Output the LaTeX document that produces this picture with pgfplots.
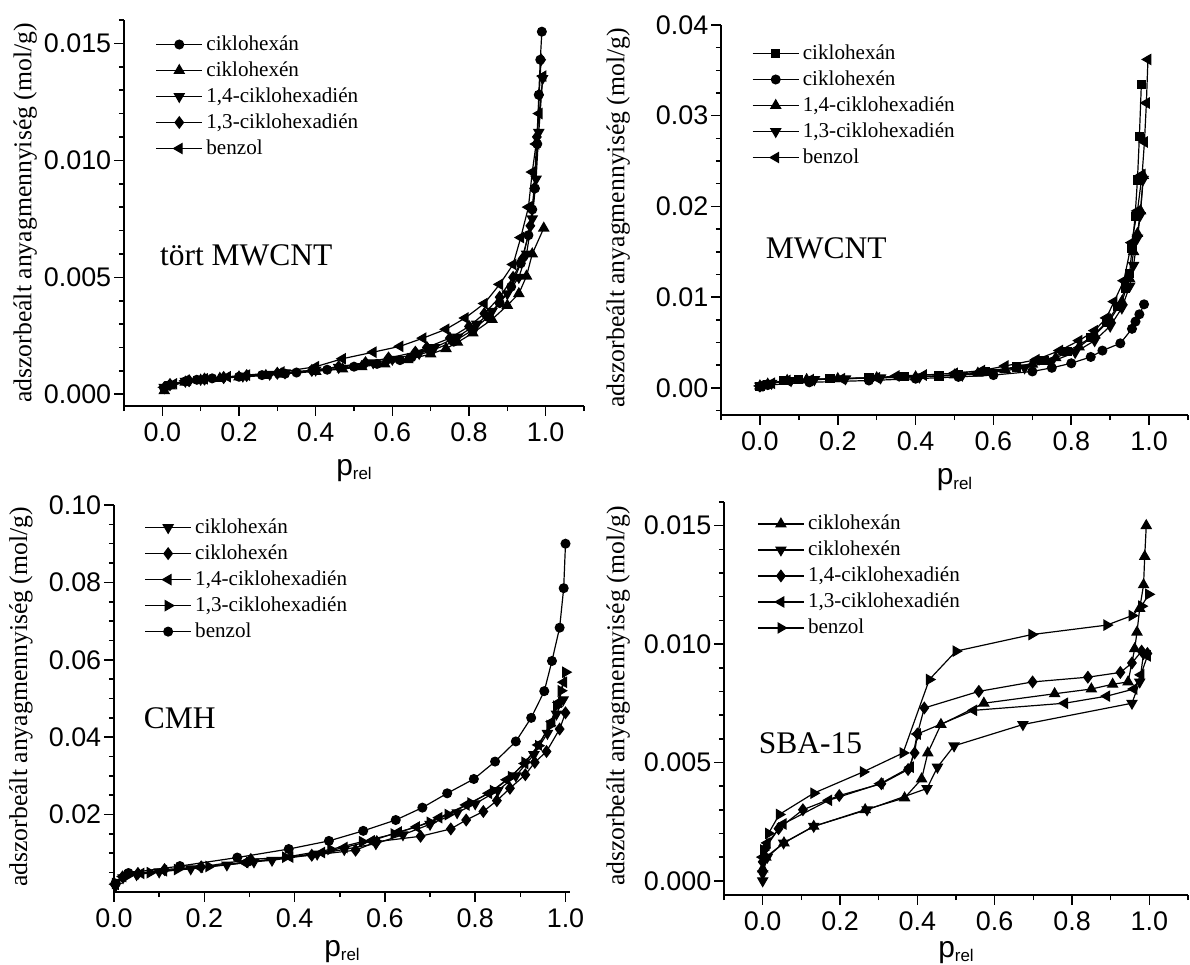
\documentclass[border=0pt]{standalone}
\usepackage{fontspec}
\setmainfont{Liberation Serif}
\setsansfont{Liberation Sans}
\usepackage{pgfplots}
\pgfplotsset{compat=1.18}
\tikzset{lab/.style={anchor=west, font=\fontsize{15.8}{18}\selectfont}}
\pgfplotsset{
  panel/.style={
    scale only axis, anchor=south west,
    axis x line*=bottom, axis y line*=left,
    axis line style={-, line width=1bp, black},
    tick align=outside, major tick length=5bp, minor tick length=2.6bp,
    every tick/.style={black, line width=0.8bp},
    scaled ticks=false,
    ticklabel style={font=\sffamily\fontsize{13.5}{16}\selectfont},
    yticklabel style={inner xsep=1.2bp},
    /pgf/number format/assume math mode=true,
    xtick={0,0.2,0.4,0.6,0.8,1},
    xticklabel style={/pgf/number format/.cd,fixed,fixed zerofill,precision=1},
    clip=false,
    legend cell align=left,
    legend style={draw=none, fill=none, anchor=north west,
      font=\fontsize{10.6}{13}\selectfont, row sep=2.5bp,
      nodes={font=\fontsize{10.6}{13}\selectfont, inner xsep=1.75bp, inner ysep=0bp, text height=8bp, text depth=2.5bp}},
    legend image code/.code={\draw[mark repeat=2,mark phase=2] plot coordinates {(0bp,0bp) (11.5bp,0bp) (23bp,0bp)};},
    xlabel={\sffamily\fontsize{15}{18}\selectfont p\raisebox{-2.2bp}{\fontsize{8.5}{10}\selectfont rel}},
    ylabel={adszorbeált anyagmennyiség (mol/g)},
    ylabel style={font=\fontsize{12.9}{15}\selectfont, anchor=center},
    xlabel style={anchor=north, at={(axis description cs:0.5,-0.12)}},
  },
  s1/.style={black, line width=0.6bp},
  mcirc/.style={s1, mark=*, mark size=2.2bp, mark options={fill=black, solid}},
  mup/.style={s1, mark=triangle*, mark size=2.8bp, mark options={fill=black, solid}},
  mdown/.style={s1, mark=triangle*, mark size=2.8bp, mark options={fill=black, solid, rotate=180}},
  mleft/.style={s1, mark=triangle*, mark size=2.8bp, mark options={fill=black, solid, rotate=90}},
  mright/.style={s1, mark=triangle*, mark size=2.8bp, mark options={fill=black, solid, rotate=270}},
  mdiam/.style={s1, mark=diamond*, mark size=2.8bp, mark options={fill=black, solid}},
  msq/.style={s1, mark=square*, mark size=2.0bp, mark options={fill=black, solid}},
}
\begin{document}
\begin{tikzpicture}[x=1bp,y=1bp]
\useasboundingbox (0,0) rectangle (595,482.5);
% ---------------- Panel 1: tort MWCNT
\begin{axis}[panel, at={(62bp,279.5bp)}, width=230bp, height=193bp,
  xmin=-0.1, xmax=1.1, ymin=-0.0005, ymax=0.016,
  ytick={0,0.005,0.01,0.015},
  minor xtick={-0.1,0.1,0.3,0.5,0.7,0.9,1.1},
  minor ytick={0.001,0.002,0.003,0.004,0.006,0.007,0.008,0.009,0.011,0.012,0.013,0.014,0.016},
  yticklabel style={/pgf/number format/.cd,fixed,fixed zerofill,precision=3},
  ylabel style={at={(axis description cs:-0.215,0.5)}},
  legend style={at={(axis description cs:0.055,0.975)}}]
\addplot[mcirc] coordinates {(0.005,0.00025)(0.02,0.0004)(0.06,0.00055)(0.09,0.00062)(0.13,0.00068)(0.2,0.00075)(0.26,0.00082)(0.32,0.00088)(0.35,0.00093)(0.43,0.00105)(0.5,0.00118)(0.56,0.0013)(0.62,0.00146)(0.65,0.00158)(0.7,0.00185)(0.76,0.00225)(0.81,0.00275)(0.85,0.0033)(0.88,0.0039)(0.91,0.0046)(0.935,0.0056)(0.955,0.0068)(0.965,0.0079)(0.972,0.0088)(0.978,0.0107)(0.982,0.0128)(0.986,0.0143)(0.99,0.0155)};
\addlegendentry{ciklohexán}
\addplot[mup] coordinates {(0.005,0.00015)(0.02,0.00035)(0.06,0.00052)(0.1,0.0006)(0.15,0.00068)(0.2,0.00074)(0.27,0.0008)(0.31,0.00086)(0.4,0.00098)(0.47,0.00108)(0.52,0.00118)(0.58,0.0013)(0.64,0.00148)(0.7,0.00172)(0.74,0.00195)(0.77,0.00222)(0.81,0.00262)(0.86,0.0032)(0.9,0.0038)(0.93,0.0043)(0.95,0.00505)(0.965,0.006)(0.995,0.0071)};
\addlegendentry{ciklohexén}
\addplot[mdown] coordinates {(0.005,0.0003)(0.02,0.00042)(0.06,0.00056)(0.1,0.00064)(0.16,0.00072)(0.21,0.00078)(0.28,0.00086)(0.32,0.00092)(0.4,0.00104)(0.46,0.00115)(0.55,0.00135)(0.6,0.0015)(0.67,0.00175)(0.71,0.002)(0.77,0.00245)(0.82,0.003)(0.86,0.00355)(0.9,0.0043)(0.93,0.005)(0.95,0.006)(0.965,0.0075)(0.975,0.0092)(0.982,0.0112)(0.992,0.0135)};
\addlegendentry{1,4-ciklohexadién}
\addplot[mdiam] coordinates {(0.005,0.00028)(0.02,0.00042)(0.07,0.00058)(0.11,0.00065)(0.16,0.00072)(0.22,0.0008)(0.3,0.0009)(0.39,0.00102)(0.46,0.00118)(0.53,0.00135)(0.59,0.00155)(0.66,0.0018)(0.69,0.002)(0.75,0.0024)(0.8,0.0029)(0.84,0.00345)(0.88,0.00415)(0.915,0.005)(0.94,0.0058)(0.96,0.0072)(0.97,0.0088)(0.977,0.011)(0.983,0.0128)(0.988,0.0143)};
\addlegendentry{1,3-ciklohexadién}
\addplot[mleft] coordinates {(0.005,0.0003)(0.03,0.00045)(0.06,0.00058)(0.11,0.00066)(0.17,0.00075)(0.22,0.00082)(0.31,0.00095)(0.4,0.00118)(0.47,0.00152)(0.55,0.0018)(0.62,0.00205)(0.68,0.0024)(0.74,0.00278)(0.79,0.00326)(0.84,0.00388)(0.88,0.0047)(0.915,0.00555)(0.935,0.0067)(0.955,0.008)(0.965,0.0095)(0.975,0.0107)(0.983,0.012)(0.993,0.0136)};
\addlegendentry{benzol}
\node[lab] at (axis description cs:0.063,0.39) {tört MWCNT};
\end{axis}
% ---------------- Panel 2: MWCNT
\begin{axis}[panel, at={(360.5bp,275bp)}, width=233.5bp, height=195bp,
  xmin=-0.1, xmax=1.1, ymin=-0.003, ymax=0.04,
  ytick={0,0.01,0.02,0.03,0.04},
  minor xtick={-0.1,0.1,0.3,0.5,0.7,0.9,1.1},
  minor ytick={-0.0025,0.0025,0.005,0.0075,0.0125,0.015,0.0175,0.0225,0.025,0.0275,0.0325,0.035,0.0375},
  yticklabel style={/pgf/number format/.cd,fixed,fixed zerofill,precision=2},
  ylabel style={at={(axis description cs:-0.22,0.505)}},
  legend style={at={(axis description cs:0.053,0.965)}}]
\addplot[msq] coordinates {(0.0,0.0001)(0.02,0.0004)(0.06,0.0008)(0.1,0.0009)(0.18,0.001)(0.28,0.0011)(0.37,0.0012)(0.46,0.0013)(0.51,0.0015)(0.58,0.0018)(0.66,0.0023)(0.73,0.003)(0.79,0.004)(0.85,0.0055)(0.89,0.0072)(0.92,0.009)(0.94,0.011)(0.95,0.0126)(0.956,0.0154)(0.964,0.0189)(0.97,0.0229)(0.975,0.0277)(0.98,0.0334)};
\addlegendentry{ciklohexán}
\addplot[mcirc] coordinates {(0.0,0.0001)(0.02,0.0003)(0.127,0.0006)(0.28,0.0008)(0.4,0.001)(0.51,0.0012)(0.6,0.0014)(0.7,0.0018)(0.75,0.0022)(0.8,0.0027)(0.85,0.0034)(0.88,0.0041)(0.926,0.0049)(0.956,0.0065)(0.965,0.0073)(0.975,0.0081)(0.987,0.0092)};
\addlegendentry{ciklohexén}
\addplot[mup] coordinates {(0.0,0.0002)(0.02,0.0004)(0.07,0.0008)(0.12,0.0009)(0.2,0.001)(0.3,0.0011)(0.4,0.0012)(0.5,0.0014)(0.56,0.0016)(0.63,0.002)(0.7,0.0026)(0.76,0.0033)(0.82,0.0045)(0.86,0.0058)(0.9,0.0075)(0.93,0.0095)(0.95,0.012)(0.96,0.015)(0.97,0.017)(0.978,0.0195)(0.985,0.0234)};
\addlegendentry{1,4-ciklohexadién}
\addplot[mdown] coordinates {(0.0,0.0002)(0.03,0.0005)(0.08,0.0008)(0.14,0.0009)(0.22,0.001)(0.31,0.0011)(0.41,0.0012)(0.52,0.0014)(0.6,0.0017)(0.68,0.0022)(0.75,0.0029)(0.81,0.0039)(0.86,0.0052)(0.9,0.0068)(0.93,0.0088)(0.95,0.0112)(0.96,0.0135)(0.97,0.0165)(0.977,0.019)(0.985,0.023)};
\addlegendentry{1,3-ciklohexadién}
\addplot[mleft] coordinates {(0.0,0.0002)(0.03,0.0005)(0.07,0.0008)(0.13,0.0009)(0.21,0.001)(0.3,0.0011)(0.35,0.0013)(0.42,0.0014)(0.5,0.0016)(0.57,0.0019)(0.63,0.0024)(0.71,0.0031)(0.77,0.0041)(0.82,0.0052)(0.86,0.0063)(0.89,0.0077)(0.91,0.0095)(0.935,0.0118)(0.955,0.016)(0.97,0.0195)(0.982,0.0235)(0.988,0.0271)(0.993,0.0314)(0.997,0.0362)};
\addlegendentry{benzol}
\node[lab] at (axis description cs:0.081,0.428) {MWCNT};
\end{axis}
% ---------------- Panel 3: CMH
\begin{axis}[panel, at={(57bp,36.5bp)}, width=228bp, height=193.5bp,
  xmin=0, xmax=1.01, ymin=0, ymax=0.1,
  ytick={0.02,0.04,0.06,0.08,0.1},
  minor xtick={0.1,0.3,0.5,0.7,0.9},
  minor ytick={0.005,0.01,0.015,0.025,0.03,0.035,0.045,0.05,0.055,0.065,0.07,0.075,0.085,0.09,0.095},
  yticklabel style={/pgf/number format/.cd,fixed,fixed zerofill,precision=2},
  ylabel style={at={(axis description cs:-0.204,0.504)}},
  xlabel style={at={(axis description cs:0.5,-0.107)}},
  legend style={at={(axis description cs:0.053,0.98)}}]
\addplot[mdown] coordinates {(0.003,0.0015)(0.02,0.0037)(0.05,0.0045)(0.1,0.0052)(0.17,0.006)(0.25,0.007)(0.31,0.0078)(0.35,0.0082)(0.45,0.0098)(0.51,0.011)(0.58,0.0125)(0.64,0.0148)(0.7,0.0175)(0.76,0.0205)(0.8,0.0228)(0.85,0.0262)(0.89,0.03)(0.93,0.0355)(0.96,0.041)(0.98,0.046)(0.995,0.0497)};
\addlegendentry{ciklohexán}
\addplot[mdiam] coordinates {(0.003,0.0017)(0.019,0.0039)(0.053,0.0048)(0.112,0.0058)(0.193,0.0065)(0.303,0.0084)(0.438,0.0095)(0.535,0.0108)(0.582,0.013)(0.679,0.0144)(0.746,0.0163)(0.78,0.0186)(0.818,0.0208)(0.848,0.0236)(0.877,0.0268)(0.911,0.0303)(0.932,0.0335)(0.958,0.0363)(0.987,0.0421)(1.0,0.0463)};
\addlegendentry{ciklohexén}
\addplot[mleft] coordinates {(0.003,0.002)(0.02,0.004)(0.06,0.0048)(0.11,0.0055)(0.19,0.0064)(0.29,0.0076)(0.39,0.009)(0.46,0.0102)(0.51,0.0115)(0.57,0.0132)(0.63,0.0155)(0.67,0.0168)(0.72,0.0192)(0.78,0.0225)(0.83,0.0255)(0.87,0.029)(0.91,0.0332)(0.94,0.038)(0.97,0.044)(0.985,0.049)(0.996,0.0542)};
\addlegendentry{1,4-ciklohexadién}
\addplot[mright] coordinates {(0.003,0.0022)(0.03,0.0042)(0.08,0.005)(0.14,0.0058)(0.21,0.0066)(0.3,0.0077)(0.38,0.009)(0.48,0.011)(0.55,0.013)(0.62,0.015)(0.7,0.018)(0.74,0.02)(0.79,0.023)(0.84,0.0262)(0.88,0.0298)(0.91,0.0335)(0.94,0.0378)(0.965,0.043)(0.98,0.048)(0.99,0.052)(1.0,0.0568)};
\addlegendentry{1,3-ciklohexadién}
\addplot[mcirc] coordinates {(0.003,0.0022)(0.032,0.0049)(0.146,0.0067)(0.273,0.0089)(0.387,0.0111)(0.476,0.0132)(0.552,0.0158)(0.624,0.0186)(0.683,0.0218)(0.738,0.0255)(0.797,0.0292)(0.844,0.0337)(0.89,0.0389)(0.924,0.045)(0.953,0.0519)(0.97,0.0597)(0.987,0.0683)(0.996,0.0785)(1.0,0.09)};
\addlegendentry{benzol}
\node[lab] at (axis description cs:0.05,0.45) {CMH};
\end{axis}
% ---------------- Panel 4: SBA-15
\begin{axis}[panel, at={(362bp,35bp)}, width=232bp, height=196.5bp,
  xmin=-0.1, xmax=1.1, ymin=-0.0006, ymax=0.016,
  ytick={0,0.005,0.01,0.015},
  minor xtick={-0.1,0.1,0.3,0.5,0.7,0.9,1.1},
  minor ytick={0.001,0.002,0.003,0.004,0.006,0.007,0.008,0.009,0.011,0.012,0.013,0.014,0.016},
  yticklabel style={/pgf/number format/.cd,fixed,fixed zerofill,precision=3},
  ylabel style={at={(axis description cs:-0.228,0.506)}},
  xlabel style={at={(axis description cs:0.5,-0.1)}},
  legend style={at={(axis description cs:0.058,0.982)}}]
\addplot[mup] coordinates {(0.0,0.0005)(0.008,0.001)(0.055,0.0016)(0.132,0.0023)(0.265,0.003)(0.367,0.0035)(0.411,0.0043)(0.427,0.0054)(0.461,0.0066)(0.572,0.0075)(0.755,0.0079)(0.85,0.0081)(0.905,0.0083)(0.945,0.0084)(0.962,0.0098)(0.968,0.0105)(0.975,0.0115)(0.985,0.0125)(0.988,0.0137)(0.992,0.015)};
\addlegendentry{ciklohexán}
\addplot[mdown] coordinates {(0.0,0.0)(0.0,0.0003)(0.012,0.001)(0.054,0.0016)(0.132,0.0023)(0.27,0.003)(0.425,0.0039)(0.452,0.0048)(0.495,0.0057)(0.673,0.0066)(0.955,0.0075)(0.975,0.0084)(0.985,0.0096)};
\addlegendentry{ciklohexén}
\addplot[mdiam] coordinates {(0.0,0.0008)(0.008,0.0014)(0.041,0.0022)(0.104,0.003)(0.198,0.0036)(0.307,0.0041)(0.376,0.0047)(0.393,0.0054)(0.4,0.0062)(0.418,0.0073)(0.559,0.008)(0.698,0.0084)(0.841,0.0086)(0.925,0.0088)(0.955,0.0092)(0.98,0.0097)(0.995,0.0096)};
\addlegendentry{1,4-ciklohexadién}
\addplot[mleft] coordinates {(0.0,0.001)(0.012,0.0016)(0.053,0.0024)(0.171,0.0034)(0.304,0.0041)(0.382,0.0048)(0.4,0.0062)(0.546,0.0072)(0.781,0.0075)(0.89,0.0078)(0.96,0.0081)(0.978,0.0087)(0.995,0.0095)};
\addlegendentry{1,3-ciklohexadién}
\addplot[mright] coordinates {(0.002,0.0013)(0.015,0.002)(0.043,0.0028)(0.132,0.0037)(0.26,0.0046)(0.363,0.0054)(0.431,0.0085)(0.5,0.0097)(0.696,0.0104)(0.89,0.0108)(0.955,0.0112)(0.98,0.0116)(0.998,0.0121)};
\addlegendentry{benzol}
\node[lab] at (axis description cs:0.06,0.387) {SBA-15};
\end{axis}
\end{tikzpicture}
\end{document}
